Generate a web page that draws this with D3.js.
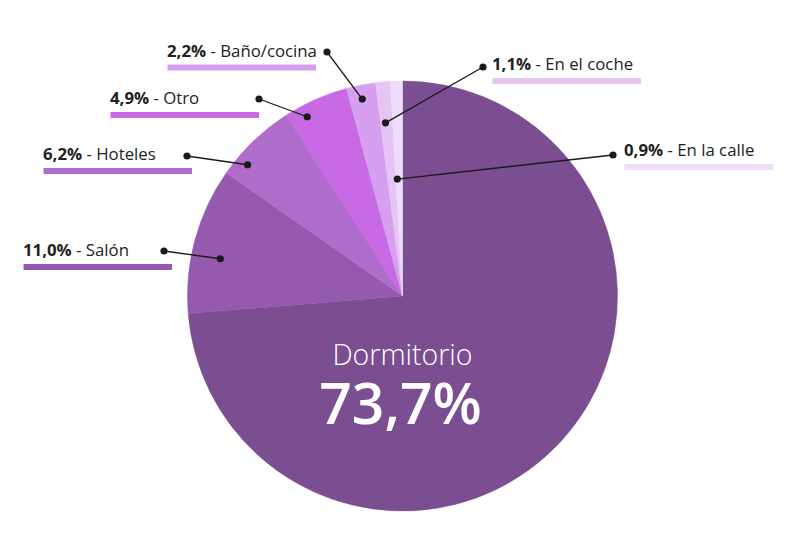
<!DOCTYPE html>
<html><head><meta charset="utf-8">
<script src="https://cdn.jsdelivr.net/npm/d3@7"></script>
<style>
html,body{margin:0;padding:0;background:#fff;}
svg{display:block;font-family:"Open Sans",sans-serif;}
</style></head>
<body><svg id="c" width="805" height="555"></svg>
<script>
// ---- data ----
const categories = ["Dormitorio","Salón","Hoteles","Otro","Baño/cocina","En el coche","En la calle"];
const values = [73.7, 11.0, 6.2, 4.9, 2.2, 1.1, 0.9];
const valueLabels = ["73,7%","11,0%","6,2%","4,9%","2,2%","1,1%","0,9%"];
const colors = ["#7a4e91","#9659b0","#b06cca","#c76ae4","#d79ff0","#e6c4f6","#efdbfa"];

// ---- layout (annotation placement) ----
const cx = 402.5, cy = 296, R = 215;
// t: fractional position inside slice for inner dot; r: radius of inner dot
// tx,ty: text start / baseline; dx,dy: outer dot
const labelLayout = {
  "Salón":       {t:0.41, r:186, tx:23,  ty:256, dx:164, dy:251},
  "Hoteles":     {t:0.24, r:203, tx:43,  ty:160, dx:187, dy:156},
  "Otro":        {t:0.27, r:203, tx:110, ty:104, dx:259, dy:99},
  "Baño/cocina": {t:0.45, r:201, tx:167, ty:56.5,dx:327, dy:52},
  "En el coche": {t:0.40, r:174, tx:492, ty:70,  dx:483, dy:67},
  "En la calle": {t:0.22, r:117, tx:624, ty:156, dx:613, dy:155}
};

const data = categories.map((c,i)=>({cat:c, value:values[i], label:valueLabels[i], color:colors[i]}));
const svg = d3.select("#c");
const g = svg.append("g").attr("transform",`translate(${cx},${cy})`);

const pie = d3.pie().value(d=>d.value).sort(null);
const arcs = pie(data);
const arc = d3.arc().innerRadius(0).outerRadius(R);

g.selectAll("path.slice").data(arcs).join("path")
  .attr("class","slice")
  .attr("d",arc)
  .attr("fill",d=>d.data.color)
  .attr("stroke",d=>d.data.color)
  .attr("stroke-width",0.5);

// Central label (one text block, two lines)
const center = g.append("text").attr("text-anchor","middle").attr("fill","#fff");
center.append("tspan").attr("x",0).attr("y",365-cy)
  .attr("font-size",28.5).attr("font-weight",300).text(data[0].cat);
center.append("tspan").attr("x",-2).attr("y",424-cy)
  .attr("font-size",57).attr("font-weight",600).text(data[0].label);

// Outer labels
const ann = svg.append("g");
arcs.slice(1).forEach(a=>{
  const L = labelLayout[a.data.cat];
  const ang = a.startAngle + (a.endAngle-a.startAngle)*L.t;
  const ix = cx + L.r*Math.sin(ang), iy = cy - L.r*Math.cos(ang);
  ann.append("line").attr("x1",ix).attr("y1",iy).attr("x2",L.dx).attr("y2",L.dy)
    .attr("stroke","#1a1a1a").attr("stroke-width",1.3);
  ann.append("circle").attr("cx",ix).attr("cy",iy).attr("r",3.6).attr("fill","#1a1a1a");
  ann.append("circle").attr("cx",L.dx).attr("cy",L.dy).attr("r",3.6).attr("fill","#1a1a1a");
  const t = ann.append("text").attr("x",L.tx).attr("y",L.ty)
    .attr("font-size",16.8).attr("fill","#222");
  t.append("tspan").attr("font-weight",700).text(a.data.label);
  t.append("tspan").text(" - " + a.data.cat);
  ann.append("rect").attr("x",L.tx+0.5).attr("y",L.ty+8).attr("width",148.5).attr("height",6)
    .attr("fill",a.data.color);
});
</script></body></html>
